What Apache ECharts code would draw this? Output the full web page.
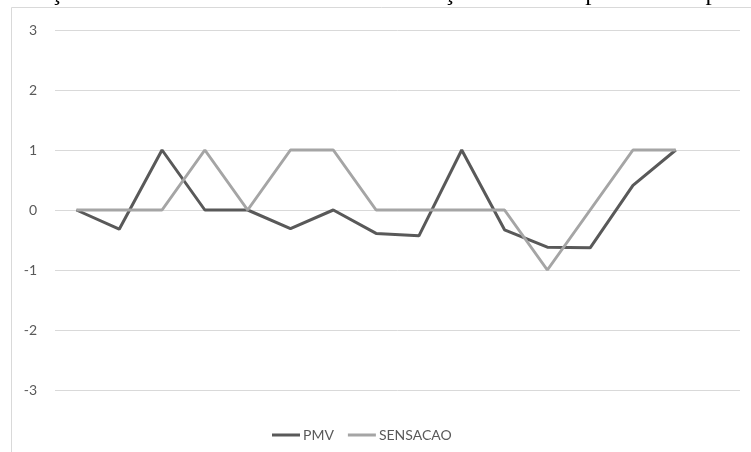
<!DOCTYPE html>
<html>
<head>
<meta charset="utf-8">
<script src="https://cdn.jsdelivr.net/npm/echarts@6/dist/echarts.min.js"></script>
<style>
  html, body { margin: 0; padding: 0; background: #fff; }
  #chart { width: 751px; height: 452px; }
</style>
</head>
<body>
<div id="chart"></div>
<script>
// Observation slots (the last slot is left empty)
const categories = ['1','2','3','4','5','6','7','8','9','10','11','12','13','14','15','16'];
// Predicted mean vote per observation
const pmv = [0, -0.32, 1, 0, 0, -0.31, 0, -0.39, -0.43, 1, -0.33, -0.62, -0.63, 0.41, 1, null];
// Reported thermal sensation vote
const sensacao = [0, 0, 0, 1, 0, 1, 1, 0, 0, 0, 0, -1, 0, 1, 1, null];
// Vertical scale
const yTicks = { min: -3, max: 3, step: 1 };
const captionText = 'Relação entre os valores de PMV e as sensações térmicas para os três períodos';

const chart = echarts.init(document.getElementById('chart'), null, { renderer: 'canvas' });
const labelFont = 'Lato, "Open Sans", sans-serif';

chart.setOption({
  animation: false,
  backgroundColor: '#ffffff',
  graphic: [
    {
      type: 'rect',
      z: -10,
      shape: { x: 11.5, y: 7.5, width: 900, height: 600 },
      style: { fill: '#ffffff', stroke: '#d9d9d9', lineWidth: 1 }
    },
    {
      type: 'text',
      x: 5,
      y: 6,
      style: {
        text: captionText,
        font: '25px "Liberation Serif", serif',
        fill: '#000000',
        verticalAlign: 'bottom'
      }
    }
  ],
  grid: { left: 55, right: 11, top: 30, bottom: 62, containLabel: false },
  legend: {
    left: 267,
    top: 423,
    icon: 'rect',
    itemWidth: 28,
    itemHeight: 3,
    itemGap: 14,
    textStyle: { color: '#595959', fontSize: 14, fontFamily: labelFont, padding: [0, 0, 0, -2] },
    data: ['PMV', 'SENSACAO']
  },
  xAxis: {
    type: 'category',
    data: categories,
    boundaryGap: true,
    axisLine: { show: false },
    axisTick: { show: false },
    axisLabel: { show: false },
    splitLine: { show: false }
  },
  yAxis: {
    type: 'value',
    min: yTicks.min,
    max: yTicks.max,
    interval: yTicks.step,
    axisLine: { show: false },
    axisTick: { show: false },
    axisLabel: { color: '#595959', fontSize: 14, fontFamily: labelFont, margin: 18 },
    splitLine: { lineStyle: { color: '#d9d9d9', width: 1 } }
  },
  series: [
    {
      name: 'PMV',
      type: 'line',
      data: pmv,
      symbol: 'none',
      lineStyle: { color: '#595959', width: 3 },
      itemStyle: { color: '#595959' }
    },
    {
      name: 'SENSACAO',
      type: 'line',
      data: sensacao,
      symbol: 'none',
      lineStyle: { color: '#a5a5a5', width: 3 },
      itemStyle: { color: '#a5a5a5' }
    }
  ]
});
</script>
</body>
</html>
